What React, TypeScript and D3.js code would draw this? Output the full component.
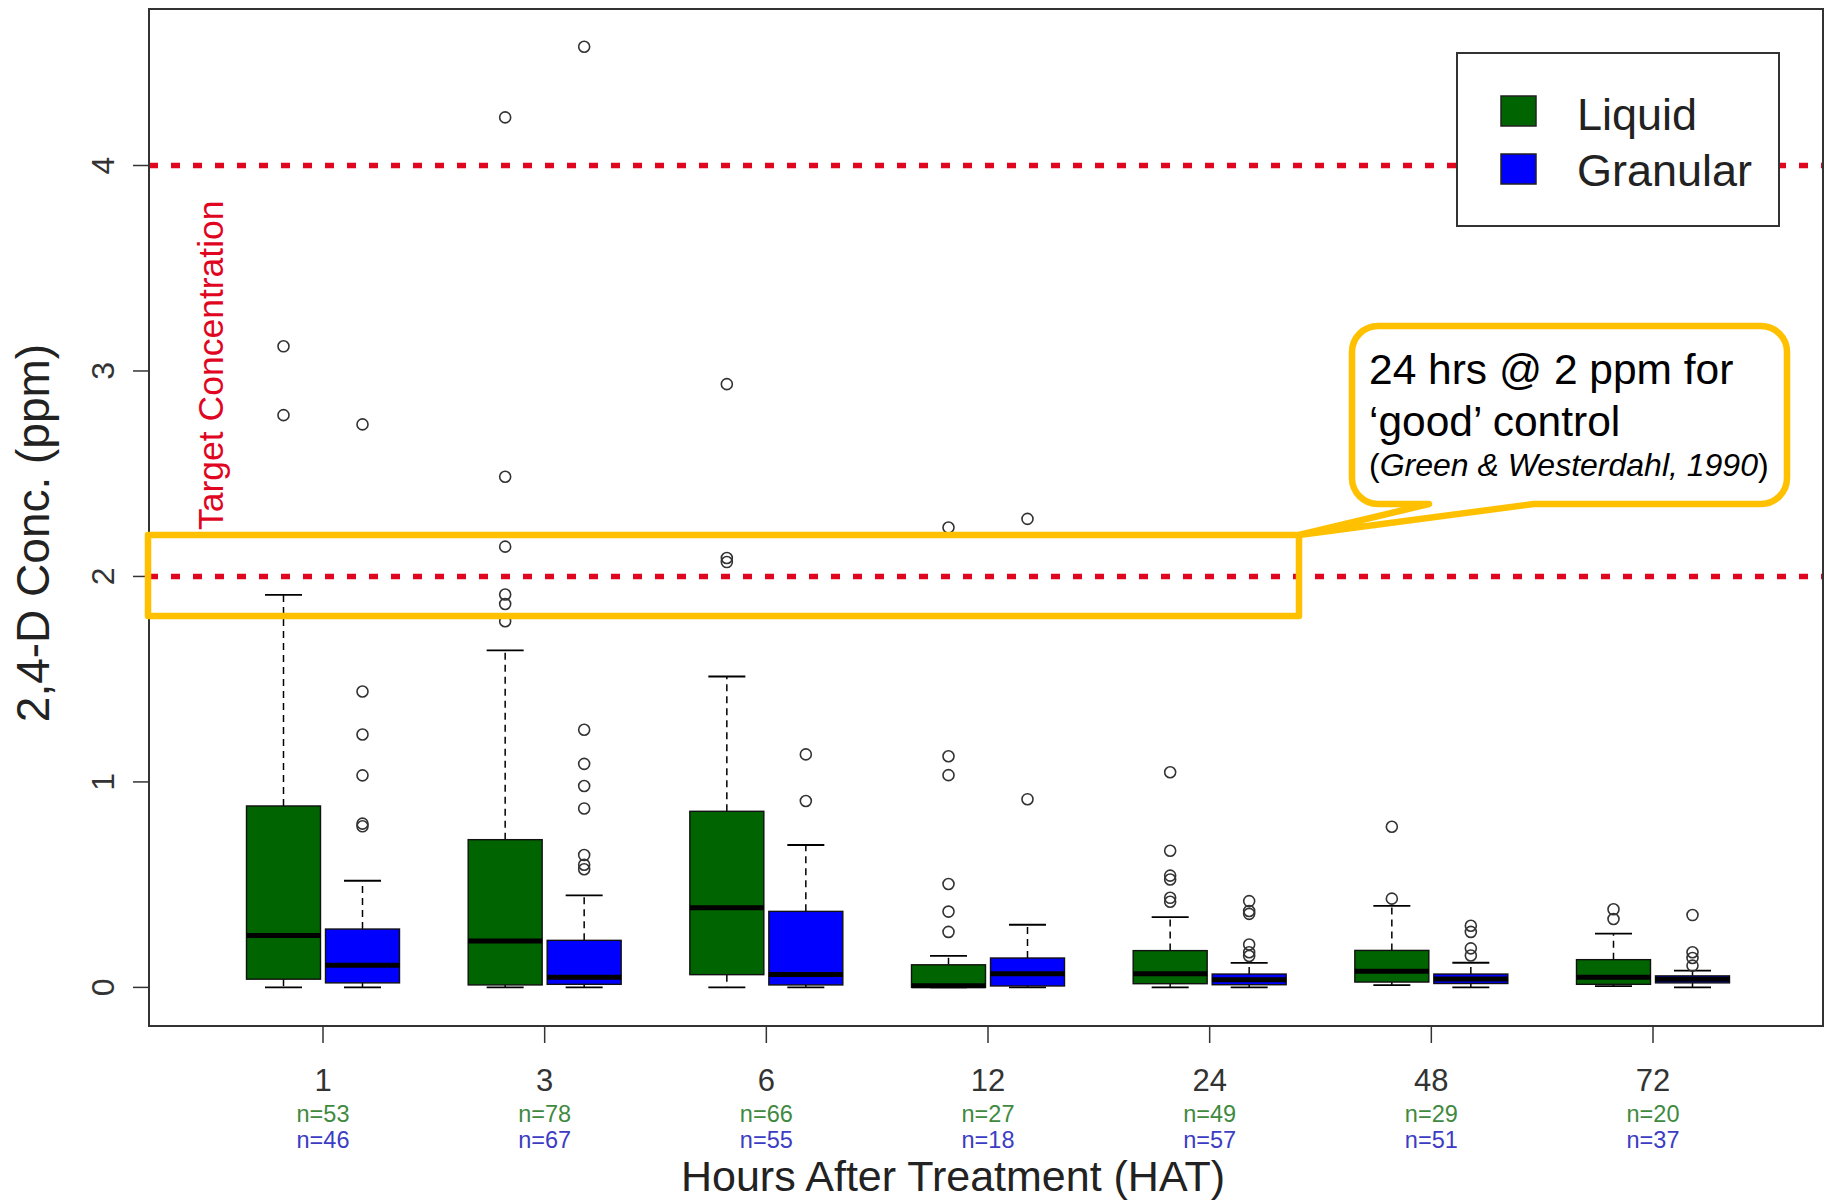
import React from 'react';
import * as d3 from 'd3';

// Sampling times (hours after treatment) and sample counts
const hours = ['1', '3', '6', '12', '24', '48', '72'];
const nLiquid = [53, 78, 66, 27, 49, 29, 20];
const nGranular = [46, 67, 55, 18, 57, 51, 37];

// Box summaries: [lower whisker, Q1, median, Q3, upper whisker] in ppm
const liquidStats = [
  [0, 0.04, 0.253, 0.883, 1.91],
  [0, 0.012, 0.226, 0.719, 1.64],
  [0, 0.062, 0.388, 0.857, 1.513],
  [0, 0.0, 0.008, 0.11, 0.153],
  [0, 0.018, 0.066, 0.179, 0.342],
  [0.011, 0.026, 0.079, 0.18, 0.397],
  [0.006, 0.015, 0.05, 0.135, 0.262],
];
const granularStats = [
  [0, 0.022, 0.108, 0.284, 0.519],
  [0, 0.015, 0.05, 0.229, 0.448],
  [0, 0.012, 0.063, 0.37, 0.693],
  [0, 0.007, 0.067, 0.143, 0.305],
  [0, 0.013, 0.037, 0.065, 0.119],
  [0, 0.019, 0.041, 0.065, 0.12],
  [0, 0.022, 0.04, 0.056, 0.082],
];

// Outlying observations in ppm
const liquidOutliers = [
  [3.12, 2.785],
  [4.234, 2.485, 2.145, 1.912, 1.866, 1.782],
  [2.936, 2.09, 2.07],
  [2.238, 1.125, 1.033, 0.503, 0.369, 0.27],
  [1.047, 0.665, 0.544, 0.525, 0.436, 0.417],
  [0.782, 0.432],
  [0.38, 0.333],
];
const granularOutliers = [
  [2.74, 1.44, 1.231, 1.032, 0.797, 0.784],
  [4.578, 1.254, 1.088, 0.98, 0.871, 0.644, 0.597, 0.575],
  [1.134, 0.907],
  [2.28, 0.916],
  [0.42, 0.372, 0.358, 0.209, 0.171, 0.153],
  [0.3, 0.27, 0.19, 0.155],
  [0.352, 0.171, 0.143, 0.106],
];

const yTicks = [0, 1, 2, 3, 4];
const referenceLines = [2, 4];
const seriesNames = ['Liquid', 'Granular'];

const FONT = 'Liberation Sans, Arial, Helvetica, sans-serif';
const GREEN = '#006400';
const BLUE = '#0000ff';
const RED = '#e0061f';
const ORANGE = '#ffc000';

const W = 1828;
const H = 1204;
const frame = { left: 149, top: 9, right: 1823, bottom: 1026 };

export default function App() {
  const y = d3.scaleLinear().domain([0, 4]).range([987.4, 165.5]);
  const x = d3.scaleLinear().domain([0, hours.length - 1]).range([323, 1653]);
  const boxW = 74;
  const offset = 39.5;

  const renderBox = (s: number[], cx: number, fill: string, key: string) => {
    const [lo, q1, med, q3, hi] = s;
    const capW = boxW / 2;
    return (
      <g key={key}>
        <line x1={cx} x2={cx} y1={y(q3)} y2={y(hi)} stroke="#000" strokeWidth={1.5} strokeDasharray="7 5" />
        <line x1={cx} x2={cx} y1={y(q1)} y2={y(lo)} stroke="#000" strokeWidth={1.5} strokeDasharray="7 5" />
        <line x1={cx - capW / 2} x2={cx + capW / 2} y1={y(hi)} y2={y(hi)} stroke="#000" strokeWidth={1.8} />
        <line x1={cx - capW / 2} x2={cx + capW / 2} y1={y(lo)} y2={y(lo)} stroke="#000" strokeWidth={1.8} />
        <rect x={cx - boxW / 2} y={y(q3)} width={boxW} height={Math.max(1, y(q1) - y(q3))} fill={fill} stroke="#111" strokeWidth={1.4} />
        <line x1={cx - boxW / 2} x2={cx + boxW / 2} y1={y(med)} y2={y(med)} stroke="#000" strokeWidth={5} />
      </g>
    );
  };

  const renderOutliers = (vals: number[], cx: number, key: string) => (
    <g key={key}>
      {vals.map((v, i) => (
        <circle key={i} cx={cx} cy={y(v)} r={5.5} fill="none" stroke="#333" strokeWidth={1.6} />
      ))}
    </g>
  );

  // Callout bubble with pointer toward the highlighted band
  const cb = { x0: 1352, y0: 326, x1: 1787, y1: 504, r: 26 };
  const tip = { x: 1299, y: 535 };
  const pL = 1429;
  const pR = 1534;
  const calloutPath = [
    `M${cb.x0 + cb.r},${cb.y0}`,
    `H${cb.x1 - cb.r}`,
    `A${cb.r},${cb.r} 0 0 1 ${cb.x1},${cb.y0 + cb.r}`,
    `V${cb.y1 - cb.r}`,
    `A${cb.r},${cb.r} 0 0 1 ${cb.x1 - cb.r},${cb.y1}`,
    `H${pR}`,
    `L${tip.x},${tip.y}`,
    `L${pL},${cb.y1}`,
    `H${cb.x0 + cb.r}`,
    `A${cb.r},${cb.r} 0 0 1 ${cb.x0},${cb.y1 - cb.r}`,
    `V${cb.y0 + cb.r}`,
    `A${cb.r},${cb.r} 0 0 1 ${cb.x0 + cb.r},${cb.y0}`,
    'Z',
  ].join(' ');

  return (
    <svg
      width={W}
      height={H}
      style={{ position: 'absolute', left: 0, top: 0, background: '#fff' }}
      fontFamily={FONT}
    >
      <rect x={0} y={0} width={W} height={H} fill="#fff" />

      {/* target concentration reference lines */}
      {referenceLines.map((v) => (
        <line key={v} x1={frame.left} x2={frame.right} y1={y(v)} y2={y(v)} stroke={RED} strokeWidth={5.5} strokeDasharray="9 13" />
      ))}

      {/* boxes */}
      {hours.map((h, i) => renderBox(liquidStats[i], x(i) - offset, GREEN, `lb${h}`))}
      {hours.map((h, i) => renderBox(granularStats[i], x(i) + offset, BLUE, `gb${h}`))}
      {hours.map((h, i) => renderOutliers(liquidOutliers[i], x(i) - offset, `lo${h}`))}
      {hours.map((h, i) => renderOutliers(granularOutliers[i], x(i) + offset, `go${h}`))}

      {/* plot frame */}
      <rect x={frame.left} y={frame.top} width={frame.right - frame.left} height={frame.bottom - frame.top} fill="none" stroke="#333" strokeWidth={2} />

      {/* y axis */}
      {yTicks.map((t) => (
        <g key={t}>
          <line x1={frame.left - 16} x2={frame.left} y1={y(t)} y2={y(t)} stroke="#333" strokeWidth={1.5} />
          <text transform={`translate(114,${y(t)}) rotate(-90)`} textAnchor="middle" fontSize={32} fill="#333">
            {t}
          </text>
        </g>
      ))}
      <text transform={`translate(49,533) rotate(-90)`} textAnchor="middle" fontSize={46} fill="#222">
        2,4-D Conc. (ppm)
      </text>

      {/* x axis */}
      {hours.map((h, i) => (
        <g key={h}>
          <line x1={x(i)} x2={x(i)} y1={frame.bottom} y2={frame.bottom + 17} stroke="#333" strokeWidth={1.5} />
          <text x={x(i)} y={1091} textAnchor="middle" fontSize={31} fill="#333">{h}</text>
          <text x={x(i)} y={1122} textAnchor="middle" fontSize={23.5} fill="#3f8a3f">{`n=${nLiquid[i]}`}</text>
          <text x={x(i)} y={1148} textAnchor="middle" fontSize={23.5} fill="#3c3cc4">{`n=${nGranular[i]}`}</text>
        </g>
      ))}
      <text x={953} y={1191} textAnchor="middle" fontSize={43} fill="#222">
        Hours After Treatment (HAT)
      </text>

      {/* target label */}
      <text transform={`translate(223,530) rotate(-90)`} textAnchor="start" fontSize={35.5} fill={RED}>
        Target Concentration
      </text>

      {/* legend */}
      <rect x={1457} y={53} width={322} height={173} fill="#fff" stroke="#333" strokeWidth={2} />
      {seriesNames.map((name, i) => (
        <g key={name}>
          <rect x={1501} y={96 + i * 58} width={35} height={30} fill={i === 0 ? GREEN : BLUE} stroke="#222" strokeWidth={1.5} />
          <text x={1577} y={130 + i * 56} fontSize={45} fill="#222">{name}</text>
        </g>
      ))}

      {/* highlighted 2 ppm band */}
      <rect x={148} y={y(2) - 41.5} width={1299 - 148} height={81} fill="none" stroke={ORANGE} strokeWidth={6.5} strokeLinejoin="round" />

      {/* callout */}
      <path d={calloutPath} fill="#fff" stroke={ORANGE} strokeWidth={6.5} strokeLinejoin="round" />
      <text x={1369} y={384} fontSize={42.5} fill="#000">24 hrs @ 2 ppm for</text>
      <text x={1369} y={436} fontSize={42.5} fill="#000">{'\u2018good\u2019 control'}</text>
      <text x={1369} y={476} fontSize={32} fill="#000">
        (<tspan fontStyle="italic">Green &amp; Westerdahl, 1990</tspan>)
      </text>
    </svg>
  );
}
